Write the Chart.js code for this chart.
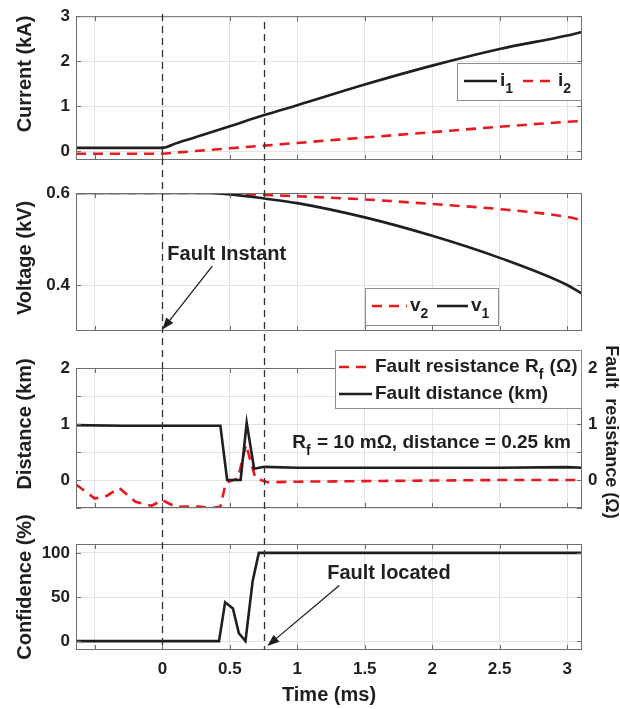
<!DOCTYPE html>
<html>
<head>
<meta charset="utf-8">
<script src="https://cdn.jsdelivr.net/npm/chart.js@4.4.1/dist/chart.umd.min.js"></script>
<style>
  html, body { margin: 0; padding: 0; background: #fff; }
  #wrap { position: relative; width: 620px; height: 709px; }
  #wrap canvas { position: absolute; left: 0; top: 0; }
</style>
</head>
<body>
<div id="wrap">
  <canvas id="current" width="620" height="709"></canvas>
  <canvas id="voltage" width="620" height="709"></canvas>
  <canvas id="distance" width="620" height="709"></canvas>
  <canvas id="confidence" width="620" height="709"></canvas>
</div>
<script>
// ---- data ----
const timeTicks = [-0.5, 0, 0.5, 1, 1.5, 2, 2.5, 3];
const faultTimes = [0, 0.755];          // fault instant, fault located

const tCurrent = [-0.64, 0, 0.1, 0.25, 0.5, 0.755, 1, 1.5, 2, 2.5, 3, 3.11];
const i1 = [0.07, 0.07, 0.17, 0.31, 0.55, 0.8, 1.02, 1.48, 1.9, 2.27, 2.57, 2.65];
const i2 = [-0.06, -0.06, -0.035, 0, 0.06, 0.12, 0.18, 0.3, 0.42, 0.54, 0.65, 0.67];
const currentTicks = [0, 1, 2, 3];

const tVoltage = [-0.64, 0, 0.3, 0.5, 0.755, 1, 1.5, 2, 2.5, 3, 3.11];
const v2 = [0.6, 0.6, 0.6, 0.599, 0.596, 0.593, 0.586, 0.576, 0.565, 0.548, 0.541];
const v1 = [0.6, 0.6, 0.6, 0.597, 0.588, 0.578, 0.547, 0.507, 0.459, 0.4, 0.381];
const voltageTicks = [0.4, 0.6];

const tResist = [-0.64, -0.5, -0.41, -0.32, -0.2, -0.08, 0, 0.1, 0.25, 0.36, 0.43, 0.47, 0.56, 0.62, 0.69, 0.78, 1, 1.5, 2, 2.5, 3, 3.11];
const resist = [-0.08, -0.33, -0.28, -0.14, -0.39, -0.46, -0.36, -0.48, -0.47, -0.5, -0.48, -0.05, 0.03, 0.63, 0.03, -0.04, -0.03, -0.02, -0.01, 0, 0, 0];
const tDist = [-0.64, -0.3, 0, 0.2, 0.43, 0.48, 0.58, 0.625, 0.68, 0.755, 1, 1.5, 2, 2.5, 3, 3.11];
const dist = [0.98, 0.97, 0.97, 0.97, 0.97, 0, 0, 1.02, 0.2, 0.235, 0.22, 0.22, 0.22, 0.22, 0.23, 0.22];
const distTicks = [-0.5, 0, 0.5, 1, 1.5, 2];

const tConf = [-0.64, 0.42, 0.465, 0.523, 0.567, 0.616, 0.669, 0.715, 3.11];
const conf = [0, 0, 44, 37, 9, 0, 68, 100, 100];
const confTicks = [0, 50, 100];

// ---- look ----
const FONT = '"Liberation Sans", Arial, Helvetica, sans-serif';
const INK = '#1f1f1f';
const RED = '#e8191f';
const FRAME = '#6e6e6e';
const GRID = '#e3e3e3';
const W = 620, H = 709, PLOT_L = 76, PLOT_R = 582;
const T_MIN = -0.64, T_MAX = 3.11;

const pts = (xs, ys) => xs.map((x, k) => ({ x, y: ys[k] }));
const fixedTicks = values => axis => { axis.ticks = values.map(v => ({ value: v })); };

// text with "_x" subscripts, drawn from x, vertically centred on y
function drawRich(ctx, text, x, y, size) {
  const parts = text.split(/_(.)/);
  let cx = x;
  parts.forEach((p, k) => {
    const sub = k % 2 === 1;
    ctx.font = `bold ${sub ? Math.round(size * 0.72) : size}px ${FONT}`;
    ctx.fillText(p, cx, y + (sub ? size * 0.42 : 0));
    cx += ctx.measureText(p).width + (sub ? 1 : 0);
  });
}

const framePlugin = {
  id: 'frame',
  afterDatasetsDraw(chart) {
    const { ctx, chartArea: a, scales } = chart;
    ctx.save();
    ctx.strokeStyle = FRAME;
    ctx.lineWidth = 1;
    ctx.strokeRect(a.left + 0.5, a.top + 0.5, a.right - a.left - 1, a.bottom - a.top - 1);
    ctx.beginPath();
    scales.x.ticks.forEach(t => {
      const px = Math.round(scales.x.getPixelForValue(t.value)) + 0.5;
      ctx.moveTo(px, a.bottom); ctx.lineTo(px, a.bottom - 5);
      ctx.moveTo(px, a.top); ctx.lineTo(px, a.top + 5);
    });
    scales.y.ticks.forEach(t => {
      const py = Math.round(scales.y.getPixelForValue(t.value)) + 0.5;
      ctx.moveTo(a.left, py); ctx.lineTo(a.left + 5, py);
      ctx.moveTo(a.right, py); ctx.lineTo(a.right - 5, py);
    });
    ctx.stroke();
    ctx.restore();
  }
};

const sideTitlePlugin = {
  id: 'sideTitles',
  afterDraw(chart, args, opts) {
    const { ctx } = chart;
    (opts.items || []).forEach(it => {
      ctx.save();
      ctx.translate(it.x, it.y);
      ctx.rotate(it.rot);
      ctx.font = `bold ${it.size}px ${FONT}`;
      ctx.fillStyle = INK;
      ctx.textAlign = 'center';
      ctx.textBaseline = 'middle';
      ctx.fillText(it.text, 0, 0);
      ctx.restore();
    });
  }
};

const boxLegendPlugin = {
  id: 'boxLegend',
  afterDraw(chart, args, opts) {
    if (!opts.box) return;
    const { ctx } = chart;
    const [x1, y1, x2, y2] = opts.box;
    ctx.save();
    ctx.fillStyle = '#fff';
    ctx.fillRect(x1, y1, x2 - x1, y2 - y1);
    ctx.strokeStyle = '#8c8c8c';
    ctx.lineWidth = 1;
    ctx.strokeRect(x1 + 0.5, y1 + 0.5, x2 - x1 - 1, y2 - y1 - 1);
    opts.items.forEach(it => {
      const ds = chart.data.datasets[it.ds];
      ctx.strokeStyle = ds.borderColor;
      ctx.lineWidth = ds.borderWidth;
      ctx.setLineDash(ds.borderDash || []);
      ctx.beginPath();
      ctx.moveTo(it.x, it.y);
      ctx.lineTo(it.x + it.len, it.y);
      ctx.stroke();
      ctx.setLineDash([]);
      ctx.fillStyle = INK;
      ctx.textAlign = 'left';
      ctx.textBaseline = 'middle';
      drawRich(ctx, ds.label, it.x + it.len + 3, it.y, opts.size);
    });
    ctx.restore();
  }
};

const notesPlugin = {
  id: 'notes',
  afterDraw(chart, args, opts) {
    const { ctx, scales } = chart;
    const xs = scales.x, ys = scales[opts.axis || 'y'];
    ctx.save();
    ctx.fillStyle = INK;
    ctx.textAlign = 'left';
    ctx.textBaseline = 'middle';
    (opts.texts || []).forEach(t => {
      drawRich(ctx, t.text, xs.getPixelForValue(t.x), ys.getPixelForValue(t.y), t.size);
    });
    ctx.strokeStyle = INK;
    ctx.lineWidth = 1.3;
    (opts.arrows || []).forEach(a => {
      const x0 = xs.getPixelForValue(a.from[0]), y0 = ys.getPixelForValue(a.from[1]);
      const x1 = xs.getPixelForValue(a.to[0]), y1 = ys.getPixelForValue(a.to[1]);
      const ang = Math.atan2(y1 - y0, x1 - x0);
      ctx.beginPath();
      ctx.moveTo(x0, y0);
      ctx.lineTo(x1 - 8 * Math.cos(ang), y1 - 8 * Math.sin(ang));
      ctx.stroke();
      ctx.beginPath();
      ctx.moveTo(x1, y1);
      ctx.lineTo(x1 - 12 * Math.cos(ang) + 4.5 * Math.sin(ang), y1 - 12 * Math.sin(ang) - 4.5 * Math.cos(ang));
      ctx.lineTo(x1 - 12 * Math.cos(ang) - 4.5 * Math.sin(ang), y1 - 12 * Math.sin(ang) + 4.5 * Math.cos(ang));
      ctx.closePath();
      ctx.fill();
    });
    ctx.restore();
  }
};

// dashed time markers running through all four panels
const markerPlugin = {
  id: 'markers',
  afterDraw(chart, args, opts) {
    if (!opts.times) return;
    const { ctx, scales } = chart;
    ctx.save();
    ctx.strokeStyle = '#333';
    ctx.lineWidth = 1.3;
    ctx.setLineDash([7, 5]);
    opts.times.forEach((t, k) => {
      const px = Math.round(scales.x.getPixelForValue(t)) + 0.5;
      ctx.beginPath();
      ctx.moveTo(px, opts.from[k]);
      ctx.lineTo(px, opts.to);
      ctx.stroke();
    });
    ctx.restore();
  }
};

function timeAxis(withLabels) {
  const axis = {
    type: 'linear', min: T_MIN, max: T_MAX,
    afterBuildTicks: fixedTicks(timeTicks),
    grid: { color: GRID, drawTicks: false },
    border: { display: false },
    ticks: { display: false },
    afterFit: s => { s.height = 0; }
  };
  if (withLabels) {
    axis.ticks = {
      color: INK, padding: 9,
      font: { family: FONT, size: 17, weight: 'bold' },
      callback: v => (v < 0 ? '' : v)
    };
    axis.title = {
      display: true, text: 'Time (ms)', color: INK,
      font: { family: FONT, size: 20, weight: 'bold' },
      padding: { top: 0, bottom: 2 }
    };
    axis.afterFit = s => { s.height = H - 650; };
  }
  return axis;
}

function valueAxis(min, max, ticks, position, labelFn) {
  return {
    type: 'linear', position, min, max,
    afterBuildTicks: fixedTicks(ticks),
    grid: { color: GRID, drawTicks: false, display: position === 'left' },
    border: { display: false },
    ticks: {
      color: INK, padding: 6,
      font: { family: FONT, size: 17, weight: 'bold' },
      callback: labelFn || (v => v)
    },
    afterFit: s => { s.width = position === 'left' ? PLOT_L : W - PLOT_R; }
  };
}

function line(label, data, color, dashed, extra) {
  return Object.assign({
    label, data,
    borderColor: color,
    borderWidth: 2.6,
    borderDash: dashed ? [10, 7] : [],
    pointRadius: 0,
    fill: false
  }, extra || {});
}

function baseOptions(top, bottom, right, plugins) {
  return {
    responsive: false, devicePixelRatio: 1, animation: false, events: [],
    layout: { padding: { left: 0, right, top, bottom } },
    plugins: Object.assign({ legend: { display: false }, tooltip: { enabled: false } }, plugins)
  };
}

const allPlugins = [framePlugin, sideTitlePlugin, boxLegendPlugin, notesPlugin, markerPlugin];

// Current
new Chart(document.getElementById('current'), {
  type: 'line',
  data: {
    datasets: [
      line('i_1', pts(tCurrent, i1), INK, false, { cubicInterpolationMode: 'monotone' }),
      line('i_2', pts(tCurrent, i2), RED, true, { cubicInterpolationMode: 'monotone' })
    ]
  },
  options: Object.assign(baseOptions(14, H - 160, W - PLOT_R, {
    sideTitles: { items: [{ text: 'Current (kA)', x: 25, y: 74, rot: -Math.PI / 2, size: 20 }] },
    boxLegend: { box: [457, 63, 582, 101], size: 19,
      items: [{ ds: 0, x: 464, y: 81, len: 33 }, { ds: 1, x: 523, y: 81, len: 32 }] }
  }), {
    scales: { x: timeAxis(false), y: valueAxis(-0.2, 3, currentTicks, 'left') }
  }),
  plugins: allPlugins
});

// Voltage
new Chart(document.getElementById('voltage'), {
  type: 'line',
  data: {
    datasets: [
      line('v_2', pts(tVoltage, v2), RED, true, { cubicInterpolationMode: 'monotone', order: 1 }),
      line('v_1', pts(tVoltage, v1), INK, false, { cubicInterpolationMode: 'monotone', order: 0 })
    ]
  },
  options: Object.assign(baseOptions(193, H - 331, W - PLOT_R, {
    sideTitles: { items: [{ text: 'Voltage (kV)', x: 25, y: 258, rot: -Math.PI / 2, size: 20 }] },
    boxLegend: { box: [365, 288, 499, 326], size: 19,
      items: [{ ds: 0, x: 372, y: 306, len: 35 }, { ds: 1, x: 437, y: 306, len: 31 }] },
    notes: {
      texts: [{ text: 'Fault Instant', x: 0.037, y: 0.467, size: 20 }],
      arrows: [{ from: [0.37, 0.441], to: [0, 0.303] }]
    }
  }), {
    scales: {
      x: timeAxis(false),
      y: valueAxis(0.3, 0.6, voltageTicks, 'left', v => v.toFixed(1))
    }
  }),
  plugins: allPlugins
});

// Distance / fault resistance
new Chart(document.getElementById('distance'), {
  type: 'line',
  data: {
    datasets: [
      line('Fault resistance R_f (Ω)', pts(tResist, resist), RED, true, { yAxisID: 'y2', order: 1 }),
      line('Fault distance (km)', pts(tDist, dist), INK, false, { order: 0 })
    ]
  },
  options: Object.assign(baseOptions(368, H - 508, 0, {
    sideTitles: { items: [
      { text: 'Distance (km)', x: 25, y: 424, rot: -Math.PI / 2, size: 20 },
      { text: 'Fault  resistance (Ω)', x: 611, y: 432, rot: Math.PI / 2, size: 18 }
    ] },
    boxLegend: { box: [335, 350, 582, 409], size: 19,
      items: [{ ds: 0, x: 339, y: 367, len: 33 }, { ds: 1, x: 339, y: 394, len: 33 }] },
    notes: {
      texts: [{ text: 'R_f = 10 mΩ, distance = 0.25 km', x: 0.963, y: 0.66, size: 19 }]
    }
  }), {
    scales: {
      x: timeAxis(false),
      y: valueAxis(-0.5, 2, distTicks, 'left', v => (Number.isInteger(v) ? v : '')),
      y2: valueAxis(-0.5, 2, distTicks, 'right', v => (Number.isInteger(v) ? v : ''))
    }
  }),
  plugins: allPlugins
});

// Confidence
new Chart(document.getElementById('confidence'), {
  type: 'line',
  data: { datasets: [line('Confidence (%)', pts(tConf, conf), INK, false)] },
  options: Object.assign(baseOptions(544, 0, W - PLOT_R, {
    sideTitles: { items: [{ text: 'Confidence (%)', x: 25, y: 587, rot: -Math.PI / 2, size: 20 }] },
    notes: {
      texts: [{ text: 'Fault located', x: 1.222, y: 77, size: 20 }],
      arrows: [{ from: [1.311, 63], to: [0.778, -5.5] }]
    },
    markers: { times: faultTimes, from: [14, 22], to: 650 }
  }), {
    scales: { x: timeAxis(true), y: valueAxis(-10, 110, confTicks, 'left') }
  }),
  plugins: allPlugins
});
</script>
</body>
</html>
